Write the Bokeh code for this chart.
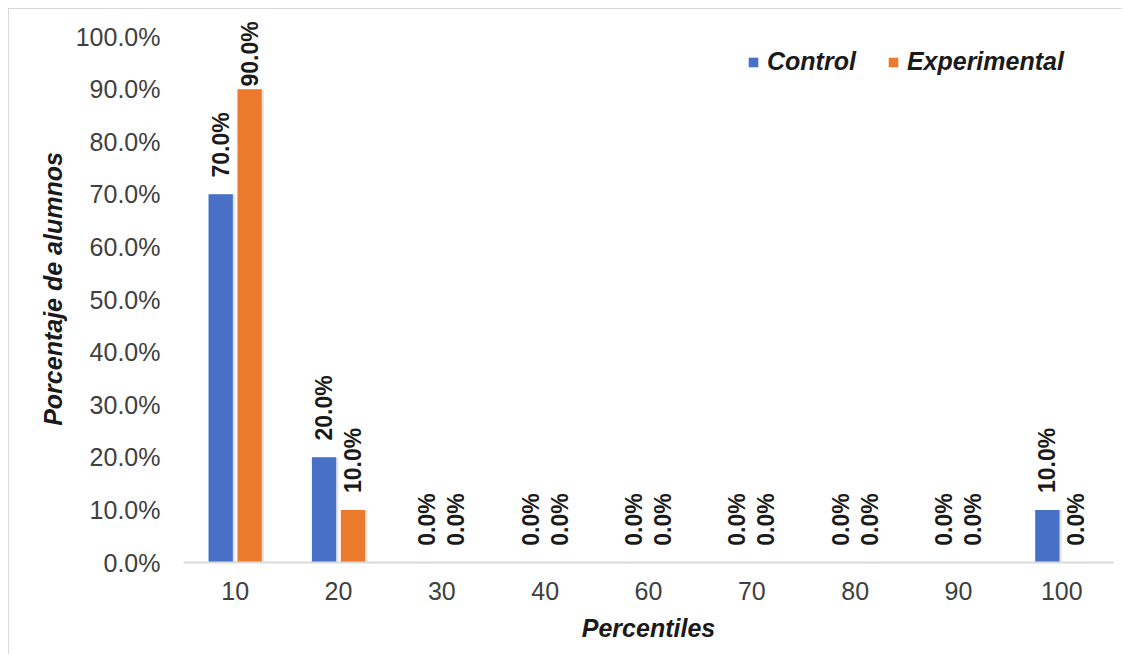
import numpy as np
from bokeh.plotting import figure
from bokeh.models import ColumnDataSource, FactorRange, Range1d, FixedTicker, NumeralTickFormatter, Legend, LegendItem
from bokeh.transform import dodge
from bokeh.core.properties import value
from bokeh.embed import file_html
from bokeh.resources import INLINE

categories = ["10", "20", "30", "40", "60", "70", "80", "90", "100"]
control = [0.70, 0.20, 0.0, 0.0, 0.0, 0.0, 0.0, 0.0, 0.10]
experimental = [0.90, 0.10, 0.0, 0.0, 0.0, 0.0, 0.0, 0.0, 0.0]
y_ticks = [0.0, 0.1, 0.2, 0.3, 0.4, 0.5, 0.6, 0.7, 0.8, 0.9, 1.0]

FONT = "Liberation Sans"
BLUE = "#4870C6"
ORANGE = "#EC7A2C"

ctrl = np.array(control)
expv = np.array(experimental)
gap = 0.032
cap = 0.905
src = ColumnDataSource(dict(
    cat=categories,
    control=ctrl,
    experimental=expv,
    control_lbl=[f"{v*100:.1f}%" for v in ctrl],
    exp_lbl=[f"{v*100:.1f}%" for v in expv],
    control_ly=np.minimum(ctrl + gap, cap),
    exp_ly=np.minimum(expv + gap, cap),
))

p = figure(width=1114, height=646, output_backend="svg", toolbar_location=None,
           x_range=FactorRange(*categories, range_padding=0), y_range=Range1d(0, 1.04),
           min_border_left=174, min_border_right=10, min_border_top=6, min_border_bottom=93)
p.styles = {"border-top": "1px solid #d9d9d9", "border-left": "1px solid #d9d9d9",
            "margin-left": "8px", "margin-top": "8px"}
p.outline_line_color = None
p.xgrid.grid_line_color = None
p.ygrid.grid_line_color = None

off = 0.14
w = 0.235
# faint shadows
p.vbar(x=dodge("cat", -off + 0.012, range=p.x_range), top="control", width=w + 0.02, source=src,
       fill_color="#000000", fill_alpha=0.10, line_color=None)
p.vbar(x=dodge("cat", off + 0.012, range=p.x_range), top="experimental", width=w + 0.02, source=src,
       fill_color="#000000", fill_alpha=0.10, line_color=None)
r1 = p.vbar(x=dodge("cat", -off, range=p.x_range), top="control", width=w, source=src,
            fill_color=BLUE, line_color=None)
r2 = p.vbar(x=dodge("cat", off, range=p.x_range), top="experimental", width=w, source=src,
            fill_color=ORANGE, line_color=None)

for xo, ycol, tcol in [(-off, "control_ly", "control_lbl"), (off, "exp_ly", "exp_lbl")]:
    p.text(x=dodge("cat", xo, range=p.x_range), y=ycol, text=tcol, source=src,
           angle=np.pi / 2, text_align="left", text_baseline="middle",
           text_font=value(FONT), text_font_size="23px", text_font_style="bold",
           text_color="#1a1a1a")

# Y axis
p.yaxis.ticker = FixedTicker(ticks=y_ticks)
p.yaxis.formatter = NumeralTickFormatter(format="0.0%")
p.yaxis.axis_line_color = None
p.yaxis.major_tick_line_color = None
p.yaxis.minor_tick_line_color = None
p.yaxis.major_label_standoff = 17
p.yaxis.major_label_text_font = FONT
p.yaxis.major_label_text_font_size = "25px"
p.yaxis.major_label_text_color = "#404040"
p.yaxis.axis_label = "Porcentaje de alumnos"
p.yaxis.axis_label_text_font = FONT
p.yaxis.axis_label_text_font_size = "25px"
p.yaxis.axis_label_text_font_style = "bold italic"
p.yaxis.axis_label_text_color = "#1a1a1a"
p.yaxis.axis_label_standoff = 6

# X axis
p.xaxis.axis_line_color = "#d9d9d9"
p.xaxis.axis_line_width = 2
p.xaxis.major_tick_line_color = None
p.xaxis.minor_tick_line_color = None
p.xaxis.major_label_standoff = 13
p.xaxis.major_label_text_font = FONT
p.xaxis.major_label_text_font_size = "25px"
p.xaxis.major_label_text_color = "#404040"
p.xaxis.axis_label = "Percentiles"
p.xaxis.axis_label_text_font = FONT
p.xaxis.axis_label_text_font_size = "25px"
p.xaxis.axis_label_text_font_style = "bold italic"
p.xaxis.axis_label_text_color = "#1a1a1a"
p.xaxis.axis_label_standoff = 11

legend = Legend(items=[LegendItem(label="Control", renderers=[r1]),
                       LegendItem(label="Experimental", renderers=[r2])],
                orientation="horizontal", location=(564, 486))
legend.padding = 4
legend.spacing = 31
legend.glyph_width = 12
legend.glyph_height = 12
legend.label_standoff = 8
legend.label_text_font = FONT
legend.label_text_font_size = "25px"
legend.label_text_font_style = "bold italic"
legend.label_text_color = "#1a1a1a"
legend.border_line_color = None
legend.background_fill_alpha = 0
p.add_layout(legend, "center")

open("out.html", "w").write(file_html(p, INLINE))
